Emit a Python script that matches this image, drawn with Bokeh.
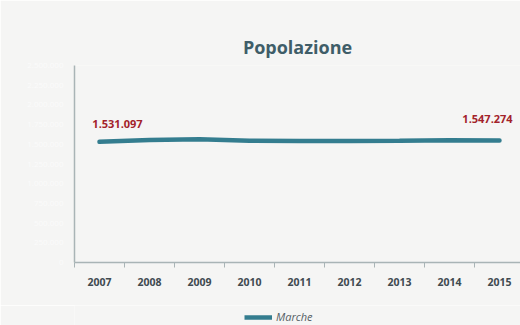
from bokeh.plotting import figure
from bokeh.layouts import column
from bokeh.models import (ColumnDataSource, FixedTicker, Range1d, Legend, LegendItem)
from bokeh.core.properties import value
from bokeh.embed import file_html
from bokeh.resources import INLINE

years = ["2007", "2008", "2009", "2010", "2011", "2012", "2013", "2014", "2015"]
marche = [1531097, 1553000, 1565000, 1545000, 1541000, 1542000, 1545000, 1550000, 1547274]
label_idx = [0, 8]
label_text = ["1.531.097", "1.547.274"]
y_ticks = [0, 250000, 500000, 750000, 1000000, 1250000, 1500000, 1750000, 2000000, 2250000, 2500000]
series_name = "Marche"

xs = list(range(len(years)))
src = ColumnDataSource(dict(x=xs, y=marche))

BG = "#f5f5f4"
LINE = "#347d8f"
p = figure(width=520, height=305, output_backend="svg", toolbar_location=None,
           x_range=Range1d(-0.5, 8.42), y_range=Range1d(0, 2500000),
           background_fill_color=BG, border_fill_color=BG,
           min_border_left=74, min_border_right=0, min_border_top=65, min_border_bottom=43)
p.outline_line_color = None
p.grid.visible = False

p.title.text = "Popolazione"
p.title.align = "center"
p.title.text_font = "Open Sans"
p.title.text_font_style = "bold"
p.title.text_font_size = "18px"
p.title.text_color = "#3f5d68"
p.title.offset = 0
p.title.standoff = 13

r = p.line("x", "y", source=src, line_color=LINE, line_width=4.5, line_cap="round")

# data labels
lab_src = ColumnDataSource(dict(x=[xs[i] for i in label_idx], y=[marche[i] for i in label_idx],
                                t=label_text, xo=[18, -12], yo=[-18, -22]))
p.text("x", "y", text="t", source=lab_src, x_offset="xo", y_offset="yo",
       text_align="center", text_baseline="middle", text_font=value("Open Sans"),
       text_font_style="bold", text_font_size="11px", text_color="#a3222a")

# x axis
xa = p.xaxis[0]
xa.ticker = FixedTicker(ticks=xs, minor_ticks=[i - 0.5 for i in range(len(years) + 1)])
xa.major_label_overrides = {i: y for i, y in enumerate(years)}
xa.major_tick_line_color = None
xa.minor_tick_in = 0
xa.minor_tick_out = 5
xa.minor_tick_line_color = "#a9b4b6"
xa.axis_line_color = "#a9b4b6"
xa.axis_line_width = 1.5
xa.major_label_text_font = "Open Sans"
xa.major_label_text_font_style = "bold"
xa.major_label_text_font_size = "10.5px"
xa.major_label_text_color = "#404a50"
xa.major_label_standoff = 9

# y axis (labels nearly invisible in the reference)
ya = p.yaxis[0]
ya.ticker = FixedTicker(ticks=y_ticks)
ya.major_label_overrides = {v: f"{v:,}".replace(",", ".") for v in y_ticks}
ya.major_tick_line_color = None
ya.minor_tick_line_color = None
ya.axis_line_color = "#a9b4b6"
ya.axis_line_width = 1.5
ya.major_label_text_font = "Open Sans"
ya.major_label_text_font_size = "8px"
ya.major_label_text_color = "#fbfbfb"

# legend strip (separate small figure so the legend is not clipped)
lf = figure(width=520, height=20, output_backend="svg", toolbar_location=None,
            x_range=Range1d(100, 101), y_range=Range1d(0, 1),
            x_axis_location=None, y_axis_location=None,
            background_fill_color=BG, border_fill_color=BG,
            min_border_left=0, min_border_right=0, min_border_top=0, min_border_bottom=0)
lf.outline_line_color = None
lf.grid.visible = False
lr = lf.line("x", "y", source=src, line_color=LINE, line_width=4.5)
legend = Legend(items=[LegendItem(label=series_name, renderers=[lr])],
                orientation="horizontal", location=(170, 1),
                border_line_color=None, background_fill_alpha=0,
                label_text_font="Open Sans", label_text_font_style="italic",
                label_text_font_size="11px", label_text_color="#555f66",
                label_height=14, glyph_width=28, glyph_height=12,
                padding=2, margin=0, label_standoff=4)
lf.add_layout(legend, "center")

layout = column(p, lf, spacing=0)
open("out.html", "w").write(file_html(layout, INLINE))
